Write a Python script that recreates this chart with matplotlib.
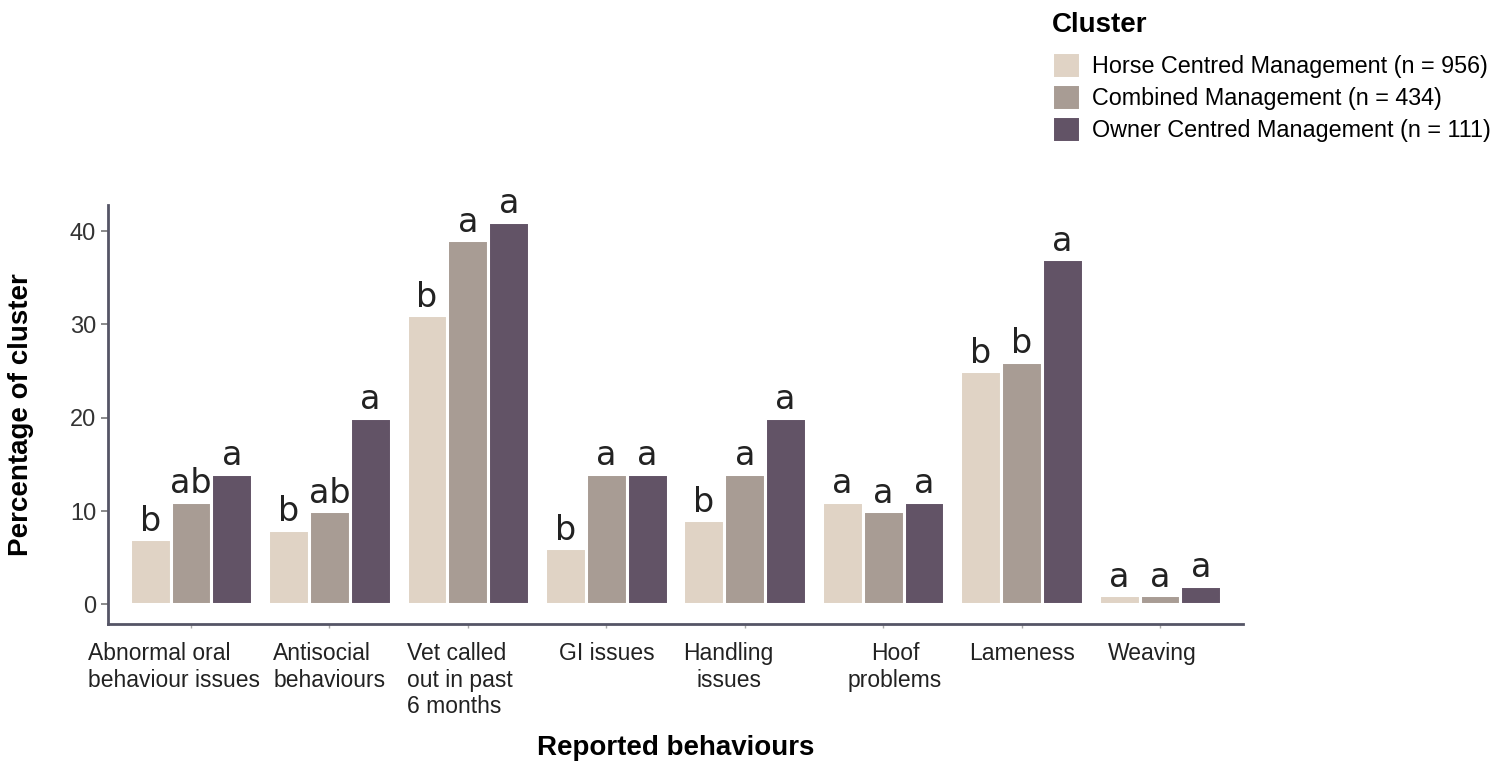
import matplotlib
matplotlib.use("Agg")
import matplotlib.pyplot as plt
import matplotlib.transforms as mtransforms
import numpy as np

categories = ["Abnormal oral\nbehaviour issues", "Antisocial\nbehaviours",
              "Vet called\nout in past\n6 months", "GI issues", "Handling\nissues",
              "Hoof\nproblems", "Lameness", "Weaving"]
label_align = ["left", "left", "left", "center", "center", "center", "center", "center"]
series_names = ["Horse Centred Management (n = 956)",
                "Combined Management (n = 434)",
                "Owner Centred Management (n = 111)"]
horse = [7, 8, 31, 6, 9, 11, 25, 1]
combined = [11, 10, 39, 14, 14, 10, 26, 1]
owner = [14, 20, 41, 14, 20, 11, 37, 2]
letters_horse = ["b", "b", "b", "b", "b", "a", "b", "a"]
letters_combined = ["ab", "ab", "a", "a", "a", "a", "b", "a"]
letters_owner = ["a", "a", "a", "a", "a", "a", "a", "a"]
colors = ["#E0D3C5", "#A89C94", "#625366"]

plt.rcParams['font.family'] = ['Liberation Sans', 'DejaVu Sans']

fig = plt.figure(figsize=(15, 7.67), dpi=100)
ax = fig.add_axes([0.072, 0.1864, 0.7567, 0.5463])

x = np.arange(len(categories))
w = 0.295
series = [horse, combined, owner]
letters = [letters_horse, letters_combined, letters_owner]
for i, (vals, lets, c, name) in enumerate(zip(series, letters, colors, series_names)):
    pos = x + (i - 1) * w
    ax.bar(pos, vals, width=w, color=c, edgecolor="white", linewidth=2.2, label=name)
    for p, v, l in zip(pos, vals, lets):
        ax.text(p, v + 0.15, l, ha="center", va="bottom", fontsize=24,
                family="DejaVu Sans", color="#222222")

ax.set_xlim(-0.6, 7.6)
ax.set_ylim(-2.1, 42.8)
ax.set_yticks([0, 10, 20, 30, 40])
ax.set_xticks(x)
ax.set_xticklabels(categories, fontsize=16.5, color="#222222", linespacing=1.2)
ax.tick_params(axis="y", labelsize=17, labelcolor="#333333", length=5, width=1.2, color="#777777")
ax.tick_params(axis="x", length=3, width=1, color="#aaaaaa", pad=10)
offsets_px = [-17, 0, -8, 0, -16, 12, 0, -8]
for t, a, dx in zip(ax.get_xticklabels(), label_align, offsets_px):
    t.set_multialignment(a)
    t.set_transform(t.get_transform() + mtransforms.ScaledTranslation(dx / 100, 0, fig.dpi_scale_trans))
for s in ["top", "right"]:
    ax.spines[s].set_visible(False)
for s in ["left", "bottom"]:
    ax.spines[s].set_color("#555566")
    ax.spines[s].set_linewidth(2)

ax.set_ylabel("Percentage of cluster", fontsize=20, fontweight="bold", labelpad=26)
ax.set_xlabel("Reported behaviours", fontsize=20, fontweight="bold", labelpad=12)

leg = fig.legend(loc="upper left", bbox_to_anchor=(0.687, 1.012), frameon=False,
                 fontsize=16.8, title="Cluster", title_fontproperties={"weight": "bold", "size": 20},
                 handlelength=1.2, handleheight=1.35, labelspacing=0.26, handletextpad=0.55,
                 alignment="left")
leg._legend_box.sep = 10

fig.savefig("out.png", dpi=100)
